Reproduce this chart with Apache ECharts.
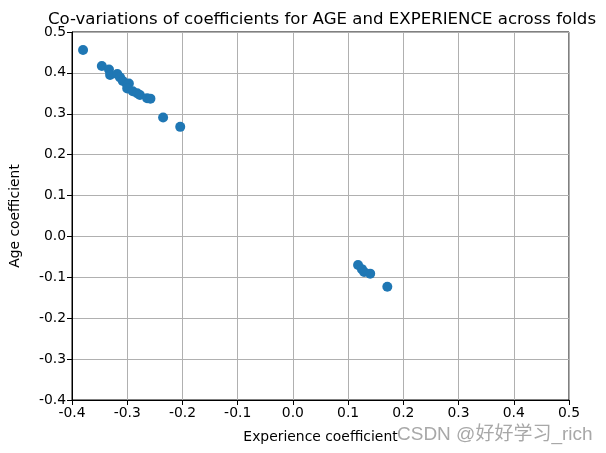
<!DOCTYPE html>
<html><head><meta charset="utf-8">
<script src="https://cdn.jsdelivr.net/npm/echarts@6/dist/echarts.min.js"></script>
<style>html,body{margin:0;padding:0;background:#fff}#c{width:606px;height:453px}</style>
</head><body><div id="c"></div>
<script>
const expCoef = [-0.380, -0.346, -0.333, -0.331, -0.318, -0.313, -0.308, -0.300, -0.297, -0.300, -0.290, -0.282, -0.277, -0.264, -0.258, -0.235, -0.204, 0.118, 0.125, 0.129, 0.140, 0.171];
const ageCoef = [0.456, 0.417, 0.408, 0.395, 0.397, 0.389, 0.380, 0.370, 0.374, 0.362, 0.355, 0.350, 0.346, 0.338, 0.337, 0.291, 0.268, -0.070, -0.080, -0.087, -0.091, -0.123];
const xTicks = [-0.4, -0.3, -0.2, -0.1, 0.0, 0.1, 0.2, 0.3, 0.4, 0.5];
const yTicks = [-0.4, -0.3, -0.2, -0.1, 0.0, 0.1, 0.2, 0.3, 0.4, 0.5];
const pts = expCoef.map((x, i) => [x, ageCoef[i]]);
const font = 'DejaVu Sans';
const chart = echarts.init(document.getElementById('c'));
const axisCommon = {
  type: 'value', interval: 0.1,
  axisLine: {show: true, onZero: false, lineStyle: {color: '#000', width: 1}},
  axisTick: {show: true, inside: false, length: 5, lineStyle: {color: '#000'}},
  splitLine: {show: true, lineStyle: {color: '#b0b0b0', width: 1}},
  axisLabel: {color: '#000', fontFamily: font, fontSize: 13.9, margin: 6, formatter: v => v.toFixed(1)},
  nameTextStyle: {color: '#000', fontFamily: font, fontSize: 13.9}
};
chart.setOption({
  animation: false,
  title: {text: 'Co-variations of coefficients for AGE and EXPERIENCE across folds', left: 317, textAlign: 'center', top: 6,
    textStyle: {fontFamily: font, fontSize: 16.6, fontWeight: 'normal', color: '#000'}},
  grid: {left: 72, right: 37, top: 32, bottom: 53, show: true, borderColor: '#000', borderWidth: 1},
  xAxis: Object.assign({}, axisCommon, {min: xTicks[0], max: xTicks[xTicks.length-1], name: 'Experience coefficient', nameLocation: 'middle', nameGap: 30}),
  yAxis: Object.assign({}, axisCommon, {min: yTicks[0], max: yTicks[yTicks.length-1], name: 'Age coefficient', nameLocation: 'middle', nameGap: 50}),
  graphic: [{type: 'text', left: 397, top: 425, style: {text: 'CSDN @好好学习_rich', fontSize: 19, fill: '#a8a8a8', fontFamily: 'Liberation Sans, Noto Sans CJK SC'}}],
  series: [{type: 'scatter', data: pts, symbolSize: 10, itemStyle: {color: '#1f77b4', opacity: 1}}]
});
</script></body></html>
